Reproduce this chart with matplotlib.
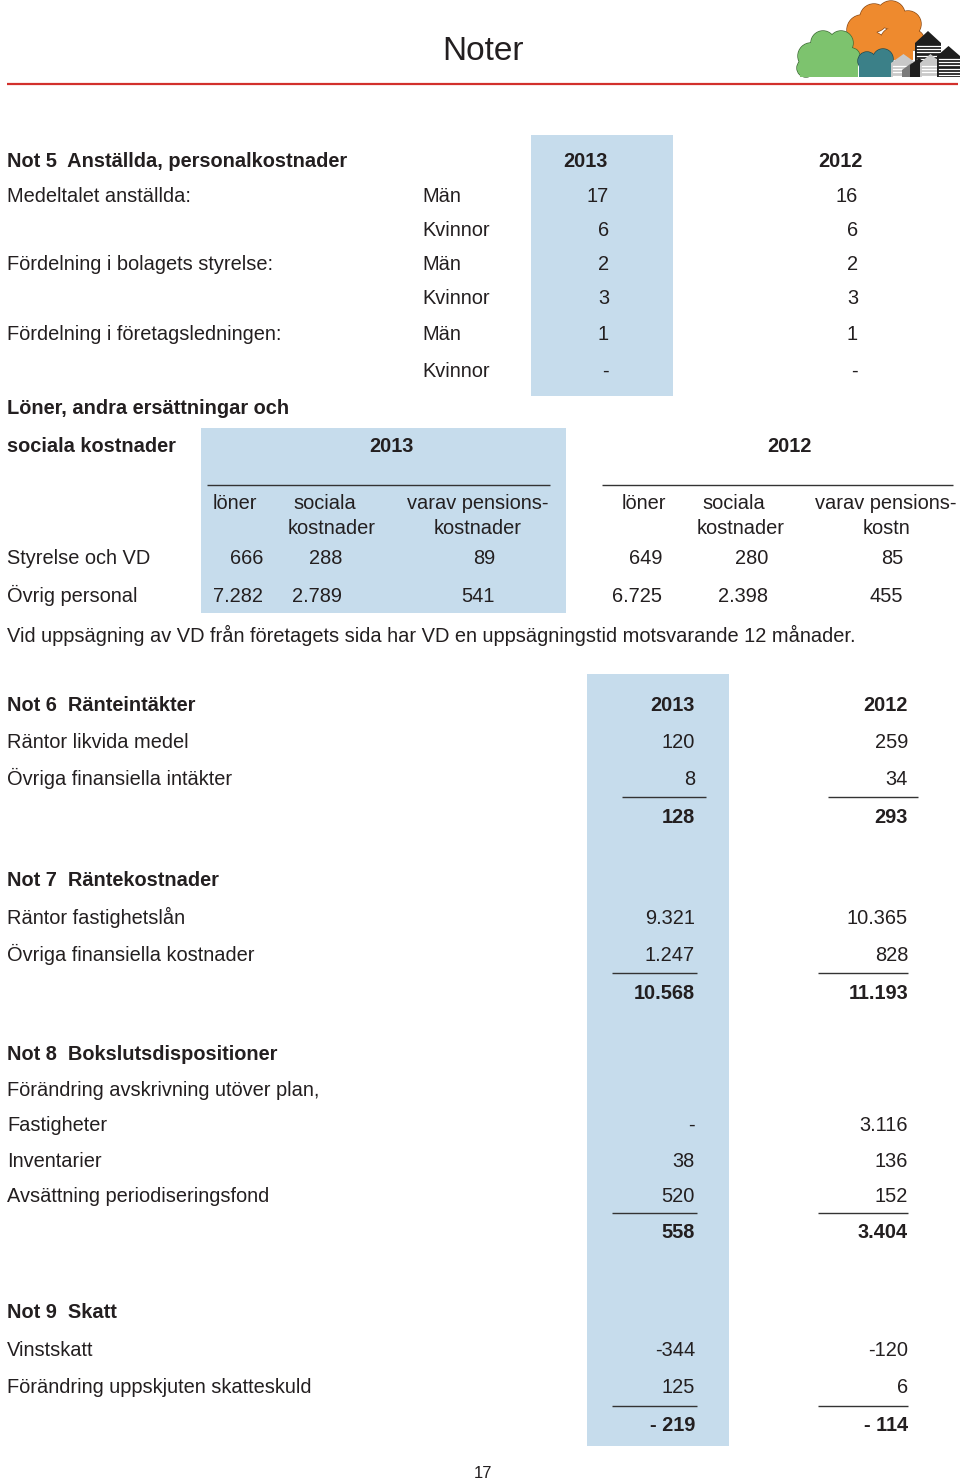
import matplotlib.pyplot as plt
from matplotlib.patches import Rectangle, Circle, Polygon

# ---------------- Data ----------------
years = ["2013", "2012"]

# Not 5 - antal anställda
staff_groups = ["Medeltalet anställda:", "", "Fördelning i bolagets styrelse:", "",
                "Fördelning i företagsledningen:", ""]
staff_gender = ["Män", "Kvinnor", "Män", "Kvinnor", "Män", "Kvinnor"]
staff_2013 = ["17", "6", "2", "3", "1", "-"]
staff_2012 = ["16", "6", "2", "3", "1", "-"]

# Not 5 - löner och sociala kostnader
salary_cols = ["löner", "sociala\nkostnader", "varav pensions-\nkostnader"]
salary_cols_2012 = ["löner", "sociala\nkostnader", "varav pensions-\nkostn"]
salary_rows = ["Styrelse och VD", "Övrig personal"]
salary_2013 = [["666", "288", "89"], ["7.282", "2.789", "541"]]
salary_2012 = [["649", "280", "85"], ["6.725", "2.398", "455"]]
salary_note = "Vid uppsägning av VD från företagets sida har VD en uppsägningstid motsvarande 12 månader."

# Not 6-9
notes = [
    {"title": "Not 6  Ränteintäkter",
     "rows": ["Räntor likvida medel", "Övriga finansiella intäkter"],
     "v2013": ["120", "8"], "v2012": ["259", "34"],
     "sum2013": "128", "sum2012": "293", "years": True},
    {"title": "Not 7  Räntekostnader",
     "rows": ["Räntor fastighetslån", "Övriga finansiella kostnader"],
     "v2013": ["9.321", "1.247"], "v2012": ["10.365", "828"],
     "sum2013": "10.568", "sum2012": "11.193", "years": False},
    {"title": "Not 8  Bokslutsdispositioner",
     "rows": ["Förändring avskrivning utöver plan,", "Fastigheter", "Inventarier",
              "Avsättning periodiseringsfond"],
     "v2013": ["", "-", "38", "520"], "v2012": ["", "3.116", "136", "152"],
     "sum2013": "558", "sum2012": "3.404", "years": False},
    {"title": "Not 9  Skatt",
     "rows": ["Vinstskatt", "Förändring uppskjuten skatteskuld"],
     "v2013": ["-344", "125"], "v2012": ["-120", "6"],
     "sum2013": "- 219", "sum2012": "- 114", "years": False},
]

# ---------------- Style ----------------
FONT = "Liberation Sans"
FS = 14.4
INK = "#231f20"
BLUE = "#c6dcec"
RED = "#d2302c"
CAP = 7.2  # half cap height in px, to go from row centre to baseline

plt.rcParams["font.family"] = FONT

fig = plt.figure(figsize=(9.6, 14.83), dpi=100)
ax = fig.add_axes([0, 0, 1, 1])
ax.set_xlim(0, 960)
ax.set_ylim(1483, 0)
ax.axis("off")


def txt(x, y, s, ha="left", bold=False, size=FS, va="baseline"):
    ax.text(x, y + CAP if va == "baseline" else y, s, ha=ha, va=va, fontsize=size,
            color=INK, fontweight="bold" if bold else "normal")


def rule(x0, x1, y):
    ax.plot([x0, x1], [y, y], color="#333333", lw=1.0, solid_capstyle="butt")


# ---------------- Header ----------------
ax.text(483, 60, "Noter", ha="center", va="baseline", fontsize=24, color=INK)
ax.plot([7, 958], [83.5, 83.5], color=RED, lw=1.6, solid_capstyle="butt")


# logo: clouds and houses
def cloud(circles, rect, color, edge):
    # outlined circles first, then plain fills on top -> only the outer outline stays
    for cx, cy, r in circles:
        ax.add_patch(Circle((cx, cy), r, facecolor=color, edgecolor=edge, lw=1.0, zorder=2))
    ax.add_patch(Rectangle(rect[:2], rect[2], rect[3], facecolor=color, edgecolor="none", zorder=2))
    for cx, cy, r in circles:
        ax.add_patch(Circle((cx, cy), r, facecolor=color, edgecolor="none", zorder=2))


def house(x0, x1, peak, eave, bottom, color, stripes=None):
    mid = (x0 + x1) / 2
    ax.add_patch(Polygon([(x0, bottom), (x0, eave), (mid, peak), (x1, eave), (x1, bottom)],
                         closed=True, facecolor=color, edgecolor="none", zorder=3))
    if stripes:
        y = eave + 3
        while y < bottom - 1:
            ax.plot([x0 + 2, x1], [y, y], color=stripes, lw=0.9, zorder=3)
            y += 3.2


cloud([(862, 30, 15), (874, 18, 14), (891, 15, 14), (908, 24, 13), (914, 40, 10),
       (872, 46, 14), (895, 42, 15), (856, 40, 10)], (858, 40, 55, 20), "#ee8a2e", "#8a4a16")
house(915, 941, 31, 43, 77, "#1e1e1e", stripes="white")
cloud([(811, 56, 13), (823, 43, 12), (841, 43, 12), (851, 57, 9), (806, 68, 9), (832, 55, 14)],
      (800, 60, 58, 17), "#7dc36e", "#3d6a34")
cloud([(867, 61, 9), (883, 59, 10), (889, 68, 7)], (859, 63, 34, 14), "#3b8088", "#1f4a50")
house(891, 916, 54, 63, 77, "#c8c8c8", stripes="white")
house(902, 921, 63, 70, 77, "#7a7a7a")
house(910, 928, 58, 65, 77, "#1e1e1e")
house(920, 941, 54, 63, 77, "#c8c8c8", stripes="white")
house(937, 960, 46, 56, 77, "#1e1e1e", stripes="white")

# ---------------- Not 5 ----------------
ax.add_patch(Rectangle((531, 135), 142, 261, facecolor=BLUE, edgecolor="none", zorder=0))
txt(7, 160, "Not 5  Anställda, personalkostnader", bold=True)
txt(585, 160, years[0], ha="center", bold=True)
txt(840, 160, years[1], ha="center", bold=True)

staff_y = [195, 229, 263, 297, 333, 370]
for y, grp, g, a, b in zip(staff_y, staff_groups, staff_gender, staff_2013, staff_2012):
    txt(7, y, grp)
    txt(422, y, g)
    txt(609, y, a, ha="right")
    txt(858, y, b, ha="right")

txt(7, 407, "Löner, andra ersättningar och", bold=True)
txt(7, 445, "sociala kostnader", bold=True)

ax.add_patch(Rectangle((201, 428), 365, 185, facecolor=BLUE, edgecolor="none", zorder=0))
txt(391, 445, years[0], ha="center", bold=True)
txt(789, 445, years[1], ha="center", bold=True)
rule(207, 550, 485)
rule(602, 953, 485)

head_y = [502, 527]
for (x, ha), col in zip([(213, "left"), (288, "left"), (478, "center")], salary_cols):
    for i, ln in enumerate(col.split("\n")):
        xx = x + 5 if ln == "sociala" else x
        txt(xx, head_y[i], ln, ha=ha)
for (x, ha), col in zip([(622, "left"), (697, "left"), (886, "center")], salary_cols_2012):
    for i, ln in enumerate(col.split("\n")):
        xx = x + 5 if ln == "sociala" else x
        txt(xx, head_y[i], ln, ha=ha)

row_y = [557, 595]
right_2013 = [263, 342, 495]
right_2012 = [662, 768, 903]
for y, name, v13, v12 in zip(row_y, salary_rows, salary_2013, salary_2012):
    txt(7, y, name)
    for x, v in zip(right_2013, v13):
        txt(x, y, v, ha="right")
    for x, v in zip(right_2012, v12):
        txt(x, y, v, ha="right")

txt(7, 635, salary_note)

# ---------------- Not 6-9 ----------------
ax.add_patch(Rectangle((587, 674), 142, 772, facecolor=BLUE, edgecolor="none", zorder=0))

layout = [
    {"title": 704, "rows": [741, 778], "rule": 797, "sum": 816, "r13": (622, 706), "r12": (828, 918)},
    {"title": 879, "rows": [917, 954], "rule": 973, "sum": 992, "r13": (612, 697), "r12": (818, 908)},
    {"title": 1053, "rows": [1089, 1124, 1160, 1195], "rule": 1213, "sum": 1231,
     "r13": (612, 697), "r12": (818, 908)},
    {"title": 1311, "rows": [1349, 1386], "rule": 1406, "sum": 1424, "r13": (612, 697), "r12": (818, 908)},
]

for note, pos in zip(notes, layout):
    txt(7, pos["title"], note["title"], bold=True)
    if note["years"]:
        txt(695, pos["title"], years[0], ha="right", bold=True)
        txt(908, pos["title"], years[1], ha="right", bold=True)
    for y, name, a, b in zip(pos["rows"], note["rows"], note["v2013"], note["v2012"]):
        txt(7, y, name)
        txt(695, y, a, ha="right")
        txt(908, y, b, ha="right")
    rule(*pos["r13"], pos["rule"])
    rule(*pos["r12"], pos["rule"])
    txt(695, pos["sum"], note["sum2013"], ha="right", bold=True)
    txt(908, pos["sum"], note["sum2012"], ha="right", bold=True)

# page number
txt(483, 1473, "17", ha="center", size=12, va="center")

fig.savefig("out.png", dpi=100)
